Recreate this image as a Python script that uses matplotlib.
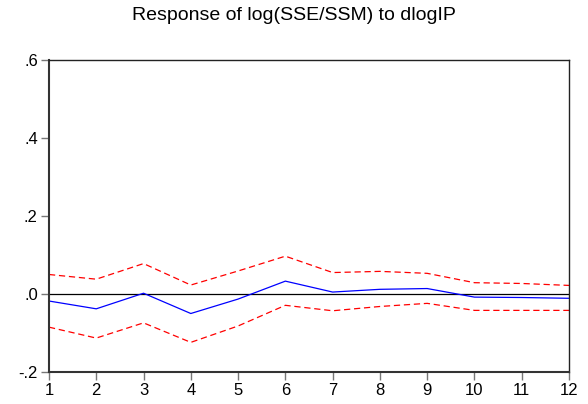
import matplotlib
matplotlib.use("Agg")
import matplotlib.pyplot as plt

plt.rcParams["font.family"] = ["Liberation Sans", "DejaVu Sans"]

# impulse response values
periods = [1, 2, 3, 4, 5, 6, 7, 8, 9, 10, 11, 12]
response = [-0.018, -0.038, 0.002, -0.050, -0.013, 0.033,
            0.005, 0.012, 0.014, -0.008, -0.009, -0.011]
upper = [0.050, 0.038, 0.078, 0.023, 0.059, 0.097,
         0.055, 0.058, 0.053, 0.029, 0.027, 0.022]
lower = [-0.085, -0.113, -0.074, -0.124, -0.082, -0.029,
         -0.043, -0.032, -0.024, -0.042, -0.042, -0.042]
yticks = [-0.2, 0.0, 0.2, 0.4, 0.6]
ytick_labels = ["-.2", ".0", ".2", ".4", ".6"]

fig = plt.figure(figsize=(5.88, 4.04), dpi=100)
ax = fig.add_axes([0.0833, 0.0792, 0.8844, 0.7723])

ax.axhline(0, color="black", linewidth=0.9, zorder=1)
ax.plot(periods, upper, color="red", linestyle=(0, (5, 3)), linewidth=0.9)
ax.plot(periods, lower, color="red", linestyle=(0, (5, 3)), linewidth=0.9)
ax.plot(periods, response, color="blue", linewidth=0.9)

ax.set_xlim(1, 12)
ax.set_ylim(-0.2, 0.6)
ax.set_xticks(periods)
ax.set_yticks(yticks)
ax.set_yticklabels(ytick_labels)
ax.tick_params(direction="out", length=6, width=1, color="#777777",
               labelsize=12, pad=2)

for side in ["left", "bottom"]:
    ax.spines[side].set_color("#333333")
    ax.spines[side].set_linewidth(1.5)
for side in ["top", "right"]:
    ax.spines[side].set_color("#222222")
    ax.spines[side].set_linewidth(1.0)

fig.text(0.5, 0.962, "Response of log(SSE/SSM) to dlogIP",
         ha="center", va="center", fontsize=14)

fig.savefig("out.png", dpi=100)
